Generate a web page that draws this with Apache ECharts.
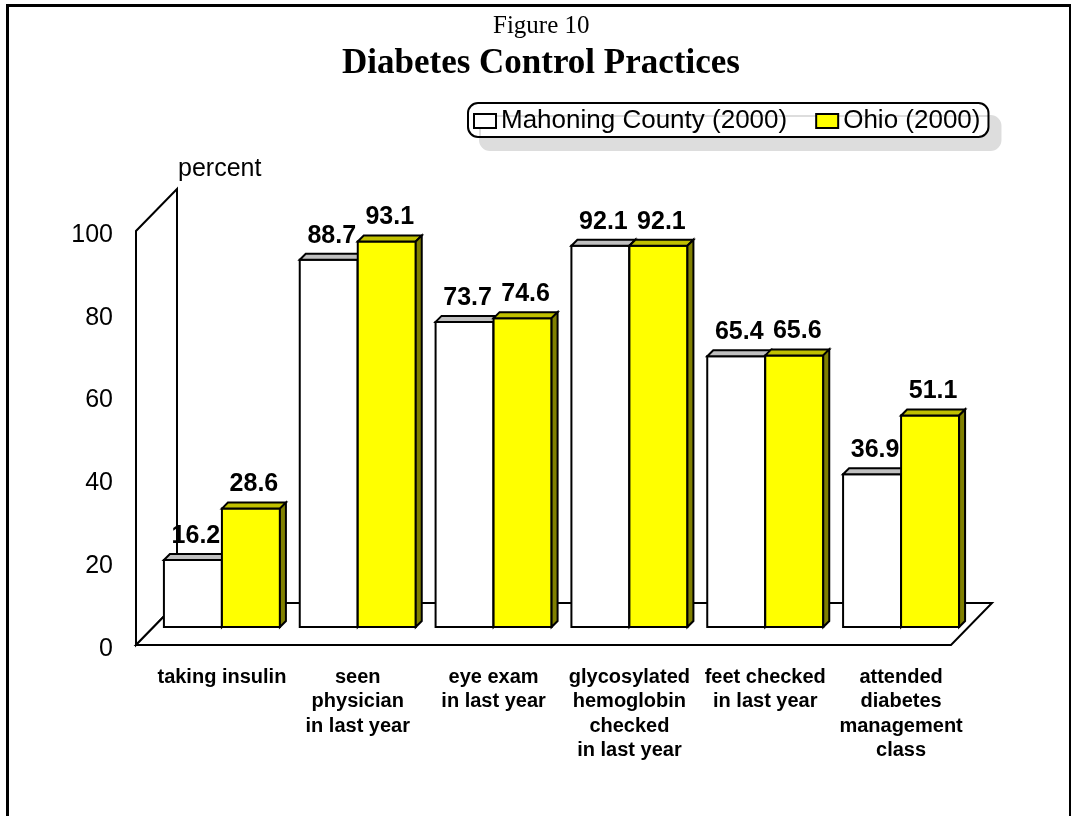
<!DOCTYPE html>
<html>
<head>
<meta charset="utf-8">
<script src="https://cdn.jsdelivr.net/npm/echarts@6/dist/echarts.min.js"></script>
<style>
  html, body { margin: 0; padding: 0; background: #fff; }
  #chart { width: 1071px; height: 816px; }
</style>
</head>
<body>
<div id="chart"></div>
<script>
// chart data
const categories = [
  'taking insulin',
  'seen\nphysician\nin last year',
  'eye exam\nin last year',
  'glycosylated\nhemoglobin\nchecked\nin last year',
  'feet checked\nin last year',
  'attended\ndiabetes\nmanagement\nclass'
]
const mahoning = [16.2, 88.7, 73.7, 92.1, 65.4, 36.9]
const ohio = [28.6, 93.1, 74.6, 92.1, 65.6, 51.1]
const seriesNames = ['Mahoning County (2000)', 'Ohio (2000)']
const yMin = 0
const yMax = 100
const yStep = 20

const SANS = '"Liberation Sans", Arial, sans-serif'
const SERIF = '"Liberation Serif", "Times New Roman", serif'

// fake 3d depth (pixels)
const FRONT = [-18, 18]
const BACK = [23, -24]
const BAR_DEPTH = 6

const chart = echarts.init(document.getElementById('chart'))

// wall + floor
function renderFrame (params, api) {
  const cs = params.coordSys
  const x0 = cs.x
  const x1 = cs.x + cs.width
  const y0 = api.coord([0, 0])[1]
  const yTop = api.coord([0, api.value(1)])[1]
  const st = { fill: '#fff', stroke: '#000', lineWidth: 2 }
  return {
    type: 'group',
    children: [
      {
        type: 'polygon',
        shape: { points: [[x0 + FRONT[0], y0 + FRONT[1]], [x0 + FRONT[0], yTop + FRONT[1]], [x0 + BACK[0], yTop + BACK[1]], [x0 + BACK[0], y0 + BACK[1]]] },
        style: st
      },
      {
        type: 'polygon',
        shape: { points: [[x0 + FRONT[0], y0 + FRONT[1]], [x1 + FRONT[0], y0 + FRONT[1]], [x1 + BACK[0], y0 + BACK[1]], [x0 + BACK[0], y0 + BACK[1]]] },
        style: st
      }
    ]
  }
}

function makeBarRenderer (side, faces) {
  return function (params, api) {
    const cat = api.value(0)
    const val = api.value(1)
    const base = api.coord([cat, 0])
    const top = api.coord([cat, val])
    const bw = api.size([1, 0])[0] * 0.427
    const x = side === 0 ? base[0] - bw : base[0]
    const yb = base[1]
    const yt = top[1]
    const d = BAR_DEPTH
    const line = { stroke: '#000', lineWidth: 2 }
    return {
      type: 'group',
      children: [
        { type: 'rect', shape: { x: x, y: yt, width: bw, height: yb - yt }, style: Object.assign({ fill: faces[0] }, line) },
        { type: 'polygon', shape: { points: [[x, yt], [x + d, yt - d], [x + bw + d, yt - d], [x + bw, yt]] }, style: Object.assign({ fill: faces[1] }, line) },
        { type: 'polygon', shape: { points: [[x + bw, yt], [x + bw + d, yt - d], [x + bw + d, yb - d], [x + bw, yb]] }, style: Object.assign({ fill: faces[2] }, line) },
        {
          type: 'text',
          x: x + bw / 2 + 3,
          y: yt - d - 18,
          style: {
            text: val.toFixed(1),
            fill: '#000',
            font: 'bold 25px ' + SANS,
            align: 'center',
            verticalAlign: 'middle'
          }
        }
      ]
    }
  }
}

const option = {
  backgroundColor: '#fff',
  animation: false,
  title: [
    {
      text: 'Figure 10',
      left: 493,
      top: 14,
      padding: 0,
      textStyle: { fontFamily: SERIF, fontSize: 25, fontWeight: 'normal', color: '#000' }
    },
    {
      text: 'Diabetes Control Practices',
      left: 342,
      top: 46,
      padding: 0,
      textStyle: { fontFamily: SERIF, fontSize: 35, fontWeight: 'bold', color: '#000' }
    }
  ],
  legend: {
    left: 468,
    top: 103,
    padding: [5, 8, 3, 5],
    itemGap: 28,
    itemWidth: 22,
    itemHeight: 14,
    icon: 'rect',
    backgroundColor: '#fff',
    borderColor: '#000',
    borderWidth: 2,
    borderRadius: 10,
    shadowColor: '#dddddd',
    shadowBlur: 0,
    shadowOffsetX: 12,
    shadowOffsetY: 13,
    textStyle: { fontFamily: SANS, fontSize: 26, color: '#000' },
    data: [
      { name: seriesNames[0], itemStyle: { color: '#ffffff', borderColor: '#000', borderWidth: 2 } },
      { name: seriesNames[1], itemStyle: { color: '#ffff00', borderColor: '#000', borderWidth: 2 } }
    ]
  },
  grid: [
    // plane where the bars stand
    { left: 154, right: 102, top: 213, bottom: 189 },
    // front plane, only for the value labels (sits a few px low like the original)
    { left: 136, right: 120, top: 235, bottom: 167 }
  ],
  xAxis: [
    {
      type: 'category',
      gridIndex: 0,
      data: categories,
      axisLine: { show: false },
      axisTick: { show: false },
      axisLabel: {
        interval: 0,
        margin: 38,
        fontFamily: SANS,
        fontSize: 20,
        fontWeight: 'bold',
        lineHeight: 24.5,
        color: '#000'
      }
    },
    {
      type: 'category',
      gridIndex: 1,
      data: categories,
      show: false
    }
  ],
  yAxis: [
    {
      type: 'value',
      gridIndex: 0,
      min: yMin,
      max: yMax,
      interval: yStep,
      show: false
    },
    {
      type: 'value',
      gridIndex: 1,
      min: yMin,
      max: yMax,
      interval: yStep,
      name: 'percent',
      nameLocation: 'end',
      nameGap: 53,
      nameTextStyle: {
        fontFamily: SANS,
        fontSize: 25,
        color: '#000',
        align: 'left',
        verticalAlign: 'bottom',
        padding: [0, 0, 0, 42]
      },
      axisLine: { show: false },
      axisTick: { show: false },
      splitLine: { show: false },
      axisLabel: {
        margin: 23,
        fontFamily: SANS,
        fontSize: 25,
        color: '#000'
      }
    }
  ],
  graphic: [
    {
      type: 'rect',
      left: 5,
      top: 3,
      shape: { width: 1063, height: 900 },
      style: { fill: 'none', stroke: '#000', lineWidth: 3 },
      silent: true,
      z: 100
    }
  ],
  series: [
    {
      type: 'custom',
      name: 'frame',
      xAxisIndex: 0,
      yAxisIndex: 0,
      renderItem: renderFrame,
      data: [[0, yMax]],
      silent: true
    },
    {
      type: 'custom',
      name: seriesNames[0],
      xAxisIndex: 0,
      yAxisIndex: 0,
      itemStyle: { color: '#ffffff', borderColor: '#000' },
      renderItem: makeBarRenderer(0, ['#ffffff', '#c0c0c0', '#808080']),
      data: mahoning.map(function (v, i) { return [i, v] })
    },
    {
      type: 'custom',
      name: seriesNames[1],
      xAxisIndex: 0,
      yAxisIndex: 0,
      itemStyle: { color: '#ffff00', borderColor: '#000' },
      renderItem: makeBarRenderer(1, ['#ffff00', '#c0c000', '#808000']),
      data: ohio.map(function (v, i) { return [i, v] })
    }
  ]
}

chart.setOption(option)
window.addEventListener('resize', function () {
  chart.resize()
})
</script>
</body>
</html>
